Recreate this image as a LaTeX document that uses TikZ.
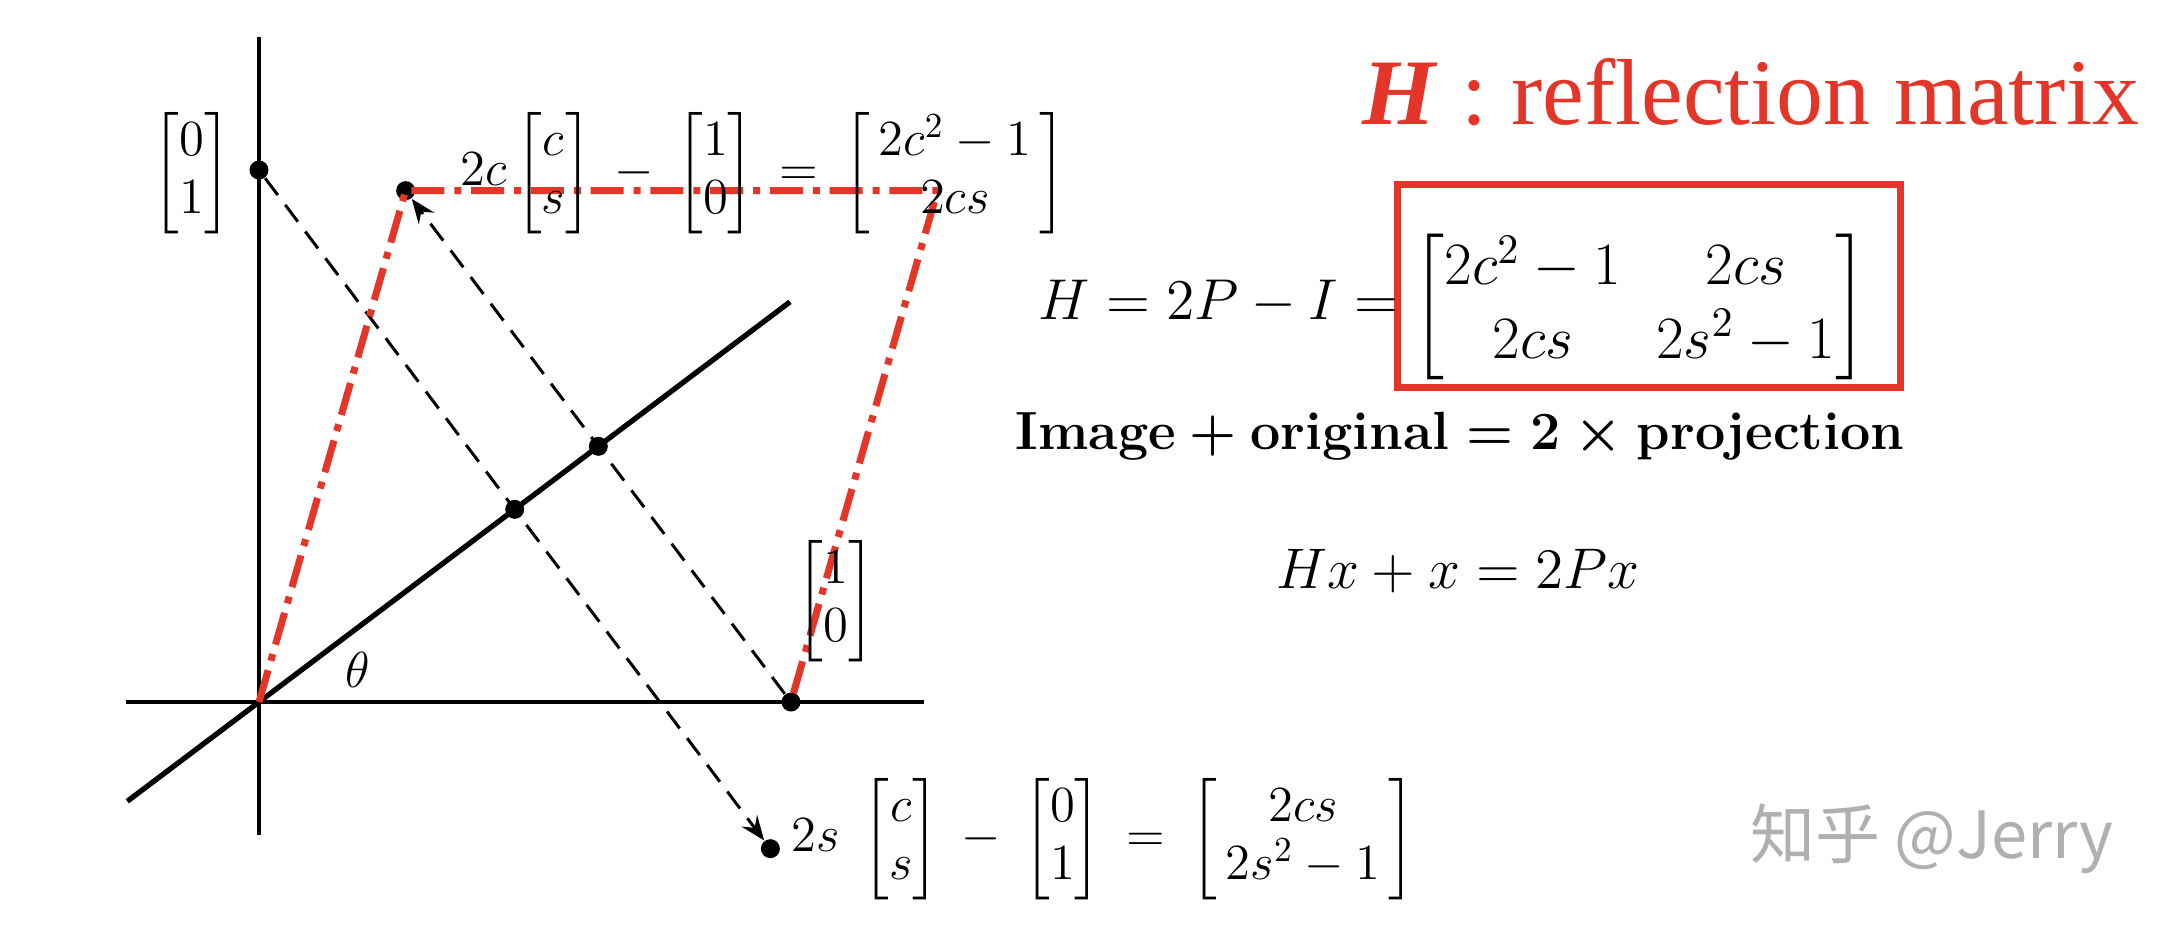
\RequirePackage{fix-cm}
\documentclass[tikz,border=0pt]{standalone}
\usepackage{amsmath}
\usepackage{fontspec}
\newfontfamily\titlefont{Liberation Serif}
\newfontfamily\cjk{Noto Sans CJK SC}
\usetikzlibrary{arrows.meta, calc}
\definecolor{refred}{RGB}{228,54,40}
\definecolor{markgray}{RGB}{176,176,176}

\begin{document}
\begin{tikzpicture}[
    axis/.style={line width=0.9pt},
    mirror/.style={line width=1.5pt},
    dot/.style={circle, fill=black, inner sep=0pt, minimum size=5.4pt},
    proj/.style={-{Stealth[length=7pt, width=5.5pt, inset=2.5pt]},
        dash pattern=on 6pt off 3.5pt, line width=0.85pt},
    refl/.style={draw=refred, line width=2pt,
        dash pattern=on 9.4pt off 2.8pt on 2pt off 2.8pt},
    lab/.style={inner sep=0pt, font=\fontsize{14.4}{16.5}\selectfont},
    rhs/.style={inner sep=0pt, font=\fontsize{16.4}{21}\selectfont},
    redbox/.style={draw=refred, line width=2pt, inner sep=0pt,
        minimum width=5.03cm, minimum height=2.03cm}]

\useasboundingbox (0,0) rectangle (21.68,-9.40);
\pgfmathsetmacro{\rotang}{37}

\begin{scope}[shift={(2.59,-7.02)}, scale=5.32]
  % axes and the mirror line
  \coordinate (O)  at (0,0);
  \coordinate (xl) at (-0.25,0);
  \coordinate (xr) at (1.25,0);
  \coordinate (yb) at (0,-0.25);
  \coordinate (yt) at (0,1.25);
  \coordinate (ml) at ({-0.31*cos(\rotang)},{-0.31*sin(\rotang)});
  \coordinate (mr) at ({1.25*cos(\rotang)},{1.25*sin(\rotang)});
  \draw[axis] (xl) -- (xr);
  \draw[axis] (yb) -- (yt);
  \draw[mirror] (ml) -- (mr);

  % points
  \node[dot] (e1)  at (1,0) {};
  \node[dot] (e2)  at (0,1) {};
  \node[dot] (pe1) at ({cos(\rotang)^2},{cos(\rotang)*sin(\rotang)}) {};
  \node[dot] (pe2) at ({cos(\rotang)*sin(\rotang)},{sin(\rotang)^2}) {};
  \node[dot] (he1) at ({cos(2*\rotang)},{sin(2*\rotang)}) {};
  \node[dot] (he2) at ({sin(2*\rotang)},{-cos(2*\rotang)}) {};
  \coordinate (sum) at ({1+cos(2*\rotang)},{sin(2*\rotang)});

  % reflections through the line
  \draw[proj] (e1) -- (he1);
  \draw[proj] (e2) -- (he2);

  % Hx + x = 2Px
  \draw[refl] (O) -- (he1.center) -- (sum) -- (e1.center);
\end{scope}

% labels
\node[lab] (v01) at (1.92,-1.73) {$\begin{bmatrix}0\\1\end{bmatrix}$};
\node[lab] (v10) at (8.36,-6.01) {$\begin{bmatrix}1\\0\end{bmatrix}$};
\node[lab] (ang) at (3.58,-6.70) {$\theta$};
\node[lab, anchor=west] (top) at (4.60,-1.73)
    {$2c\begin{bmatrix}c\\s\end{bmatrix}\:-\:\begin{bmatrix}1\\0\end{bmatrix}\:=\:\begin{bmatrix}\,2c^2-1\,\\2cs\end{bmatrix}$};
\node[lab, anchor=west] (bot) at (7.91,-8.39)
    {$2s\;\begin{bmatrix}c\\s\end{bmatrix}\:-\:\begin{bmatrix}0\\1\end{bmatrix}\:=\:\begin{bmatrix}2cs\\\,2s^2-1\,\end{bmatrix}$};

% right side
\node[inner sep=0pt, anchor=base west, text=refred, font=\fontsize{26.7}{30}\titlefont] (title)
    at (13.62,-1.24) {\textbf{\textit{H}} : reflection matrix};
\node[redbox] (hbox) at (16.485,-2.855) {};
\node[rhs, anchor=base east] (heq) at (13.99,-3.19) {$H=2P-I=$};
\node[inner sep=0pt, font=\fontsize{17.1}{21}\selectfont] (hmat) at (16.40,-3.07)
    {$\begin{bmatrix}2c^2-1 & 2cs\\2cs & 2s^2-1\end{bmatrix}$};
\node[inner sep=0pt, font=\fontsize{15.3}{18}\selectfont\boldmath] (rule) at (14.60,-4.36)
    {$\textbf{Image}+\textbf{original}=2\times\textbf{projection}$};
\node[inner sep=0pt, font=\fontsize{16.3}{19}\selectfont] (sumeq) at (14.58,-5.71) {$Hx+x=2Px$};
\node[inner sep=0pt, text=markgray, font=\fontsize{18.5}{22}\cjk] (mark) at (19.32,-8.39) {知乎 @Jerry};

\end{tikzpicture}
\end{document}
